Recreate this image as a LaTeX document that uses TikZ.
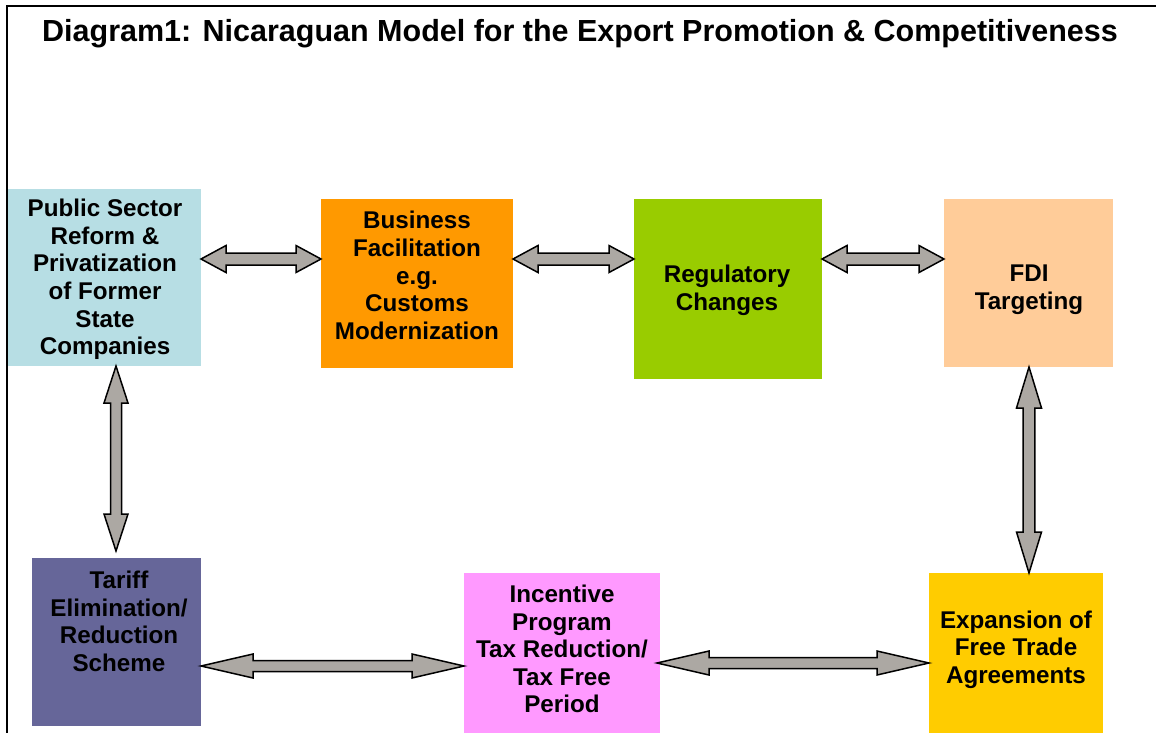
\documentclass[tikz,border=0pt]{standalone}
\usepackage{fontspec}
\setmainfont{Liberation Sans}
\usetikzlibrary{calc}

\definecolor{cblue}{RGB}{183,222,228}
\definecolor{corange}{RGB}{255,153,0}
\definecolor{cgreen}{RGB}{153,204,0}
\definecolor{cpeach}{RGB}{255,204,153}
\definecolor{cpurple}{RGB}{102,102,153}
\definecolor{cpink}{RGB}{255,153,255}
\definecolor{cgold}{RGB}{255,204,0}
\definecolor{cgrey}{RGB}{172,168,163}

% horizontal block arrow with two heads:
% #1 left tip, #2 right tip, #3 half shaft, #4 half head, #5 head length
\newcommand\hdarrow[5]{%
  \draw[blockarrow] (#1) -- ($(#1)+(#5,-#4)$) -- ($(#1)+(#5,-#3)$)
    -- ($(#2)+(-#5,-#3)$) -- ($(#2)+(-#5,-#4)$) -- (#2)
    -- ($(#2)+(-#5,#4)$) -- ($(#2)+(-#5,#3)$)
    -- ($(#1)+(#5,#3)$) -- ($(#1)+(#5,#4)$) -- cycle;}
% vertical block arrow with two heads: #1 top tip, #2 bottom tip
\newcommand\vdarrow[5]{%
  \draw[blockarrow] (#1) -- ($(#1)+(#4,#5)$) -- ($(#1)+(#3,#5)$)
    -- ($(#2)+(#3,-#5)$) -- ($(#2)+(#4,-#5)$) -- (#2)
    -- ($(#2)+(-#4,-#5)$) -- ($(#2)+(-#3,-#5)$)
    -- ($(#1)+(-#3,#5)$) -- ($(#1)+(-#4,#5)$) -- cycle;}

\begin{document}
\begin{tikzpicture}[x=1pt,y=-1pt,
  box/.style={draw=none, anchor=north west, inner sep=0pt, outer sep=0pt},
  txt/.style={align=center, inner sep=0pt,
    font=\fontsize{24.2}{27.6}\selectfont\bfseries},
  blockarrow/.style={draw=black, fill=cgrey, line width=1.5pt, line join=miter}]

\useasboundingbox (0,0) rectangle (1156,732);

% outer frame (continues past the right and bottom edges)
\begin{scope}
  \clip (0,0) rectangle (1156,732);
  \draw[line width=1.6pt] (7,760) -- (7,6) -- (1180,6);
\end{scope}

% title
\node[font=\fontsize{30.5}{34}\selectfont\bfseries, inner sep=0pt] (title) at (580,34)
  {Diagram1: Nicaraguan Model for the Export Promotion \& Competitiveness};

% boxes
\node[box, fill=cblue,   minimum width=193, minimum height=177] (pub) at (8,189) {};
\node[box, fill=corange, minimum width=192, minimum height=169] (biz) at (321,199) {};
\node[box, fill=cgreen,  minimum width=188, minimum height=180] (reg) at (634,199) {};
\node[box, fill=cpeach,  minimum width=169, minimum height=168] (fdi) at (944,199) {};
\node[box, fill=cpurple, minimum width=169, minimum height=168] (tar) at (32,558) {};
\node[box, fill=cpink,   minimum width=196, minimum height=160] (inc) at (464,573) {};
\node[box, fill=cgold,   minimum width=174, minimum height=160] (fta) at (929,573) {};

% box texts
\node[txt] (pubt) at (105,279.5) {Public Sector\\Reform \&\\Privatization\\of Former\\State\\Companies};
\node[txt] (bizt) at (417,275.5) {Business\\Facilitation\\e.g.\\Customs\\Modernization};
\node[txt] (regt) at (727,290) {Regulatory\\Changes};
\node[txt] (fdit) at (1029,290) {FDI\\Targeting};
\node[txt] (tart) at (119,621.5) {Tariff\\Elimination/\\Reduction\\Scheme};
\node[txt] (inct) at (562,649) {Incentive\\Program\\Tax Reduction/\\Tax Free\\Period};
\node[txt] (ftat) at (1016,649.5) {Expansion of\\Free Trade\\Agreements};

% connection points
\coordinate (a12s) at (pub.east |- 0,259);
\coordinate (a12e) at (biz.west |- 0,259);
\coordinate (a23s) at (biz.east |- 0,259);
\coordinate (a23e) at (reg.west |- 0,259);
\coordinate (a34s) at (reg.east |- 0,259);
\coordinate (a34e) at (fdi.west |- 0,259);
\coordinate (a15s) at (116,0 |- pub.south);
\coordinate (a15e) at ($(116,0 |- tar.north)+(0,-7)$);
\coordinate (a47s) at (1029,0 |- fdi.south);
\coordinate (a47e) at (1029,0 |- fta.north);
\coordinate (a56s) at (tar.east |- 0,666);
\coordinate (a56e) at (inc.west |- 0,666);
\coordinate (a67s) at ($(inc.east |- 0,663)+(-3,0)$);
\coordinate (a67e) at (fta.west |- 0,663);

% connectors
\hdarrow{a12s}{a12e}{6}{13.5}{25}
\hdarrow{a23s}{a23e}{6}{13.5}{25}
\hdarrow{a34s}{a34e}{6}{13.5}{25}
\vdarrow{a15s}{a15e}{5.5}{12}{37}
\vdarrow{a47s}{a47e}{5.8}{12.5}{41}
\hdarrow{a56s}{a56e}{5.5}{12}{52}
\hdarrow{a67s}{a67e}{5.5}{12}{52}

\end{tikzpicture}
\end{document}
